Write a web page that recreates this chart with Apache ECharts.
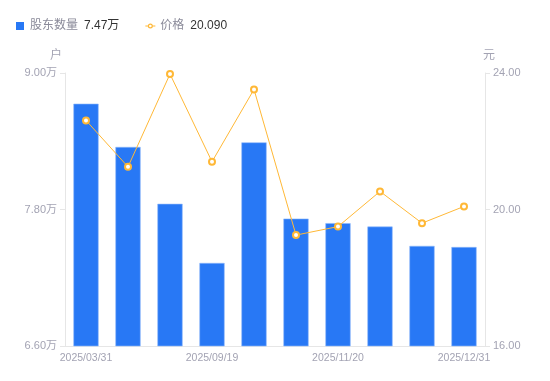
<!DOCTYPE html>
<html><head><meta charset="utf-8">
<script src="https://cdn.jsdelivr.net/npm/echarts@6/dist/echarts.min.js"></script>
<style>html,body{margin:0;padding:0;background:#fff}#c{width:550px;height:381px}</style>
</head><body><div id="c"></div>
<script>
const categories = ['2025/03/31','2025/06/30','2025/08/31','2025/09/19','2025/09/30','2025/10/31','2025/11/20','2025/11/30','2025/12/10','2025/12/31'];
const holders = [8.73, 8.35, 7.85, 7.33, 8.39, 7.72, 7.68, 7.65, 7.48, 7.47]; // 万户
const prices = [22.61, 21.25, 23.97, 21.40, 23.52, 19.25, 19.50, 20.53, 19.60, 20.09];
const leftTicks = {min: 6.6, max: 9.0, interval: 1.2};
const rightTicks = {min: 16, max: 24, interval: 4};
const latestHolders = '7.47万';
const latestPrice = '20.090';

const chart = echarts.init(document.getElementById('c'));
const font = '"Liberation Sans", Arial, "Noto Sans CJK SC", sans-serif';
const axisColor = '#a3a3b3';
const lineIcon = 'path://M0,2h2.7v1h-2.7z M7.3,2h2.7v1h-2.7z M5,0a2.5,2.5 0 1,1 0,5a2.5,2.5 0 1,1 0,-5z M5,1.2a1.3,1.3 0 1,0 0,2.6a1.3,1.3 0 1,0 0,-2.6z';
chart.setOption({
  animation: false,
  textStyle: {fontFamily: font},
  legend: {
    left: 11, top: 15, itemWidth: 10, itemHeight: 8, itemGap: 26,
    data: [
      {name: '股东数量', icon: 'path://M0,0h1v1h-1z', itemStyle: {color: '#2878F5', borderWidth: 0}},
      {name: '价格', icon: lineIcon, itemStyle: {color: '#FFB836', borderWidth: 0}}
    ],
    formatter: function (n) {
      return n === '股东数量' ? '{a|' + n + '}{b|' + latestHolders + '}' : '{a|' + n + '}{b|' + latestPrice + '}';
    },
    textStyle: {
      rich: {
        a: {color: '#8a8a99', fontSize: 12, fontFamily: font, padding: [0, 6, 0, 0]},
        b: {color: '#333', fontSize: 12, fontFamily: font}
      }
    }
  },
  grid: {left: 65, right: 65, top: 73, bottom: 35},
  xAxis: {
    type: 'category', data: categories,
    axisLine: {lineStyle: {color: '#e6e6e6'}},
    axisTick: {show: false},
    axisLabel: {color: axisColor, fontSize: 10.5, interval: 2, margin: 7, fontFamily: font}
  },
  yAxis: [{
    type: 'value', name: '户', min: leftTicks.min, max: leftTicks.max, interval: leftTicks.interval,
    nameTextStyle: {color: axisColor, fontSize: 12, padding: [0, 18, 0, 0], fontFamily: font}, nameGap: 11,
    axisLine: {show: true, lineStyle: {color: '#e6e6e6'}},
    axisTick: {show: true, length: 5, lineStyle: {color: '#e6e6e6'}},
    splitLine: {show: false},
    axisLabel: {color: axisColor, fontSize: 11, margin: 8, formatter: v => v.toFixed(2) + '万'}
  }, {
    type: 'value', name: '元', min: rightTicks.min, max: rightTicks.max, interval: rightTicks.interval,
    nameTextStyle: {color: axisColor, fontSize: 12, padding: [0, 0, 0, 8], fontFamily: font}, nameGap: 11,
    axisLine: {show: true, lineStyle: {color: '#e6e6e6'}},
    axisTick: {show: true, length: 5, lineStyle: {color: '#e6e6e6'}},
    splitLine: {show: false},
    axisLabel: {color: axisColor, fontSize: 11, margin: 8, formatter: v => v.toFixed(2)}
  }],
  series: [{
    name: '股东数量', type: 'bar', data: holders, barWidth: '60%', yAxisIndex: 0,
    itemStyle: {color: '#2878F5', borderColor: '#8fb8fa', borderWidth: 0.6}
  }, {
    name: '价格', type: 'line', data: prices, yAxisIndex: 1,
    symbol: 'emptyCircle', symbolSize: 6,
    lineStyle: {color: '#FFB836', width: 1},
    itemStyle: {color: '#FFB836', borderWidth: 2}
  }]
});
</script></body></html>
